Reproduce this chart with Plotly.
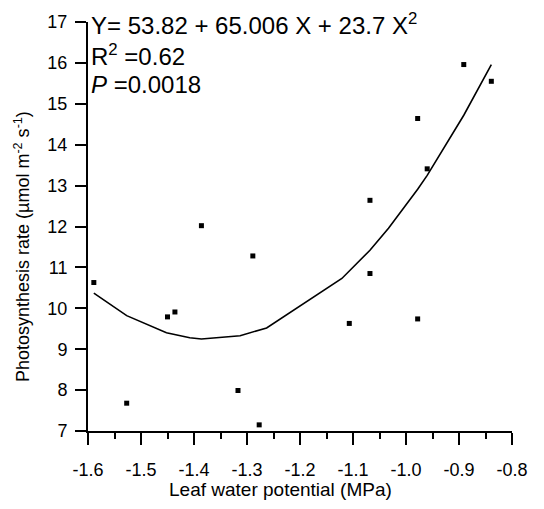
import plotly.graph_objects as go

# Observed data (leaf water potential, photosynthesis rate)
water_potential = [-1.589, -1.527, -1.450, -1.436, -1.386, -1.317, -1.289, -1.277,
                   -1.107, -1.068, -1.068, -0.978, -0.978, -0.960, -0.891, -0.839]
photosynthesis = [10.63, 7.68, 9.79, 9.91, 12.02, 7.99, 11.28, 7.15,
                  9.63, 12.64, 10.85, 14.64, 9.74, 13.41, 15.96, 15.55]

# Fitted curve vertices
fit_x = [-1.589, -1.527, -1.452, -1.408, -1.386, -1.313, -1.263, -1.121,
         -1.068, -1.033, -0.978, -0.960, -0.891, -0.839]
fit_y = [10.37, 9.82, 9.40, 9.28, 9.25, 9.33, 9.52, 10.73,
         11.42, 11.96, 12.91, 13.25, 14.72, 15.96]

x_ticks = [-1.6, -1.5, -1.4, -1.3, -1.2, -1.1, -1.0, -0.9, -0.8]
y_ticks = [7, 8, 9, 10, 11, 12, 13, 14, 15, 16, 17]

FONT = "Liberation Sans, Arial, sans-serif"

fig = go.Figure()
fig.add_trace(go.Scatter(x=fit_x, y=fit_y, mode="lines",
                         line=dict(color="black", width=1.6), hoverinfo="skip"))
fig.add_trace(go.Scatter(x=water_potential, y=photosynthesis, mode="markers",
                         marker=dict(symbol="square", size=5, color="black",
                                     line=dict(width=0))))

fig.update_layout(
    width=544, height=509,
    margin=dict(l=88, r=32, t=13, b=78),
    paper_bgcolor="white", plot_bgcolor="white",
    showlegend=False,
    font=dict(family=FONT, color="black", size=17),
)
fig.update_xaxes(
    range=[-1.6, -0.8], tickvals=x_ticks, ticktext=[f"{v:.1f}" for v in x_ticks],
    showgrid=False, zeroline=False, showline=True, linecolor="black", linewidth=2,
    ticks="outside", ticklen=12, tickwidth=2, tickcolor="black",
    ticklabelstandoff=9,
    minor=dict(dtick=0.05, ticks="outside", ticklen=6, tickwidth=2, tickcolor="black", showgrid=False),
    tickfont=dict(size=18),
)
fig.update_yaxes(
    range=[7, 17], tickvals=y_ticks,
    showgrid=False, zeroline=False, showline=True, linecolor="black", linewidth=2,
    ticks="outside", ticklen=11, tickwidth=2, tickcolor="black",
    ticklabelstandoff=4,
    tickfont=dict(size=18),
)

def px_to_paper_y(py):
    return (431 - py) / 418

def px_to_paper_x(px):
    return (px - 88) / 424

ann_font = dict(family=FONT, size=24, color="black")
fig.add_annotation(xref="paper", yref="paper", x=px_to_paper_x(89), y=px_to_paper_y(15),
                   xanchor="left", yanchor="middle", showarrow=False, font=ann_font,
                   text="Y= 53.82 + 65.006 X + 23.7 X<sup>2</sup>")
fig.add_annotation(xref="paper", yref="paper", x=px_to_paper_x(89), y=px_to_paper_y(47),
                   xanchor="left", yanchor="middle", showarrow=False, font=ann_font,
                   text="R<sup>2</sup> =0.62")
fig.add_annotation(xref="paper", yref="paper", x=px_to_paper_x(89), y=px_to_paper_y(77),
                   xanchor="left", yanchor="middle", showarrow=False, font=ann_font,
                   text="<i>P</i> =0.0018")

fig.add_annotation(xref="paper", yref="paper", x=px_to_paper_x(280), y=px_to_paper_y(491),
                   xanchor="center", yanchor="middle", showarrow=False,
                   font=dict(family=FONT, size=19, color="black"),
                   text="Leaf water potential (MPa)")
fig.add_annotation(xref="paper", yref="paper", x=px_to_paper_x(22), y=px_to_paper_y(243),
                   xanchor="center", yanchor="middle", showarrow=False, textangle=-90,
                   font=dict(family=FONT, size=18, color="black"),
                   text="Photosynthesis rate (µmol m<sup>-2</sup> s<sup>-1</sup>)")

fig.write_html("out.html")
